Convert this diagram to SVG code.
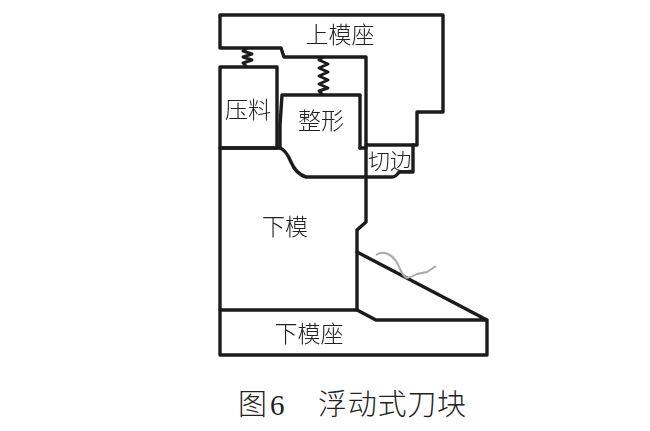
<svg xmlns="http://www.w3.org/2000/svg" width="650" height="431" viewBox="0 0 650 431">
<defs><filter id="soft" x="-5%" y="-5%" width="110%" height="110%"><feGaussianBlur stdDeviation="0.45"/></filter></defs>
<style>
.s{fill:none;stroke:#1a1a1a;stroke-width:3.4;stroke-linejoin:round;stroke-linecap:round}
.sp{fill:none;stroke:#1a1a1a;stroke-width:3;stroke-linejoin:round}
.t{font-family:"Noto Sans CJK SC","Liberation Serif",sans-serif;font-size:23px;font-weight:300;fill:#222;text-anchor:middle}
.c{font-family:"Liberation Serif","Noto Sans CJK SC",serif;font-size:29px;fill:#222;font-weight:300}
.b{filter:url(#soft)}
</style>
<rect width="650" height="431" fill="#fff"/>
<g id="upper-die-seat" class="b">
<path class="s" d="M220 15H443V112H417V145H366V57H284L281 48H220Z"/>
<text class="t" x="340" y="43">上模座</text>
</g>
<g id="pressing-block" class="b">
<path class="s" d="M220 67H277V148H220Z"/>
<text class="t" x="248" y="118">压料</text>
</g>
<g id="shaping-block" class="b">
<path class="s" d="M280 148V125L282 95H360V148"/>
<text class="t" x="321" y="129">整形</text>
</g>
<g id="trim-block" class="b">
<path class="s" d="M360 148H366M366 177H392Q396 177 399 172H413V145"/>
<text class="t" x="390" y="169" style="font-size:22px">切边</text>
</g>
<g id="lower-die" class="b">
<path class="s" d="M220 148V310H357V230L366 222V145M220 148H280Q286 150 291 162Q296 174 306 177H366"/>
<text class="t" x="285" y="235">下模</text>
</g>
<g id="lower-die-seat" class="b">
<path class="s" d="M220 310V355H487V320H376L357 310M357 252L487 320"/>
<text class="t" x="309" y="342">下模座</text>
</g>
<g id="connectors" class="b">
<path class="sp" d="M247 48L243 51L252 54L243 57L252 60L243 63L247 67"/>
<path class="sp" d="M323 57L319 60L328 64L319 68L328 72L319 76L328 80L319 84L328 88L319 91L323 95"/>
<path d="M376 255Q381 251 388 254Q396 258 400 269Q403 276 407 278Q412 277 417 274L427 272L436 266" fill="none" stroke="#aaa" stroke-width="2"/>
</g>
<g id="caption">
<text class="c" x="238" y="415">图</text>
<text class="c" x="270" y="415">6</text>
<text class="c" x="318" y="415" textLength="148">浮动式刀块</text>
</g>
</svg>
